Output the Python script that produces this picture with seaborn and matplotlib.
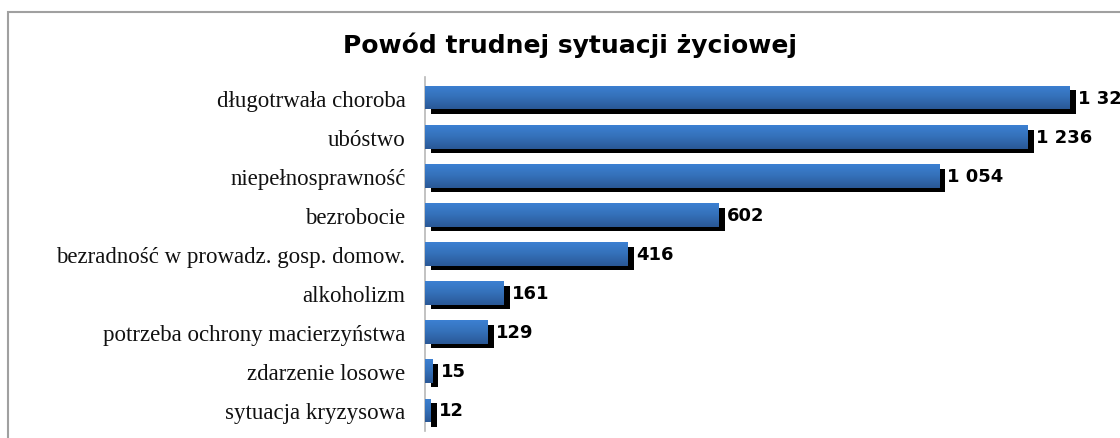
import numpy as np
import pandas as pd
import matplotlib
matplotlib.use("Agg")
import matplotlib.pyplot as plt
import matplotlib.transforms as mtransforms
from matplotlib.colors import LinearSegmentedColormap
from matplotlib.patches import Rectangle
import seaborn as sns

categories = [
    "długotrwała choroba",
    "ubóstwo",
    "niepełnosprawność",
    "bezrobocie",
    "bezradność w prowadz. gosp. domow.",
    "alkoholizm",
    "potrzeba ochrony macierzyństwa",
    "zdarzenie losowe",
    "sytuacja kryzysowa",
]
values = [1322, 1236, 1054, 602, 416, 161, 129, 15, 12]
title = "Powód trudnej sytuacji życiowej"


def fmt(v):
    return f"{v:,}".replace(",", " ")


sns.set_theme(style="white")
plt.rcParams["font.family"] = ["Liberation Serif", "DejaVu Serif"]

df = pd.DataFrame({"powod": categories, "liczba": values})

W, H = 1120, 439
fig = plt.figure(figsize=(W / 100, H / 100), dpi=100)
ax = fig.add_axes([425 / W, 1 - 432 / H, 1 - 425 / W, (432 - 78) / H])

# cień słupków (czarny, przesunięty w prawo i w dół)
sns.barplot(data=df, x="liczba", y="powod", color="black", saturation=1,
            width=0.6, linewidth=0, edgecolor="none", ax=ax)
shift = mtransforms.ScaledTranslation(0.06, -0.045, fig.dpi_scale_trans)
for p in ax.patches:
    p.set_transform(ax.transData + shift)
    p.set_zorder(1)
n_shadow = len(ax.patches)

# właściwe słupki z gradientem
sns.barplot(data=df, x="liczba", y="powod", color="#3470b8", saturation=1,
            width=0.6, linewidth=0, edgecolor="none", ax=ax)
bars = ax.patches[n_shadow:]
cmap = LinearSegmentedColormap.from_list("grad", ["#3c80d2", "#3470b8", "#2a5896"])
grad = np.linspace(0, 1, 64).reshape(-1, 1)
for p in bars:
    p.set_zorder(2)
    x0, y0, w, h = p.get_x(), p.get_y(), p.get_width(), p.get_height()
    im = ax.imshow(grad, cmap=cmap, aspect="auto", origin="upper",
                   extent=(x0, x0 + w, y0 + h, y0), zorder=3)
    im.set_clip_path(p)

ax.set_xlim(0, 1425)
ax.set_ylim(len(categories) - 1 + 0.53, -0.53)

ax.bar_label(ax.containers[-1], labels=[fmt(v) for v in values], padding=6,
             fontsize=13, fontweight="bold", family="DejaVu Sans",
             color="black", zorder=4)

ax.set_xlabel("")
ax.set_ylabel("")
ax.set_xticks([])
ax.tick_params(axis="y", length=0, pad=14, labelsize=16.5, labelcolor="#111111")
for s in ["top", "right", "bottom"]:
    ax.spines[s].set_visible(False)
ax.spines["left"].set_color("#b8b8b8")
ax.spines["left"].set_linewidth(1.2)

fig.text(570 / W, 1 - 45 / H, title, ha="center", va="center",
         fontsize=18, fontweight="bold", family="DejaVu Sans", color="black")

fig.add_artist(Rectangle((8 / W, -0.1), 1.5, 1.1 - 13 / H,
                         transform=fig.transFigure, fill=False,
                         edgecolor="#a0a0a0", linewidth=1.5))

fig.savefig("out.png", dpi=100)
